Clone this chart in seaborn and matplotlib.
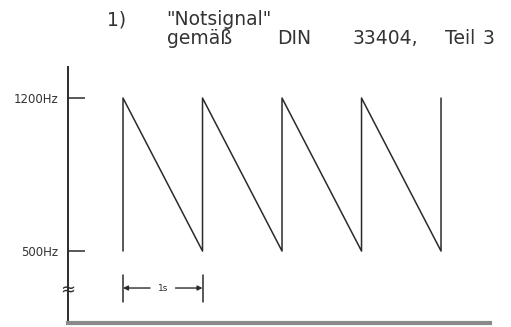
import matplotlib
matplotlib.use("Agg")
import matplotlib.pyplot as plt
import matplotlib.transforms as mtransforms
import seaborn as sns
import pandas as pd

# ---- data ----
time_s = [0, 0, 1, 1, 2, 2, 3, 3, 4, 4]
freq_hz = [500, 1200, 500, 1200, 500, 1200, 500, 1200, 500, 1200]
ytick_values = [500, 1200]
ytick_labels = ["500Hz", "1200Hz"]
title_line1 = ["1)", "\"Notsignal\""]
title_line2 = ["gemäß", "DIN", "33404,", "Teil", "3"]
period_label = "1s"

df = pd.DataFrame({"t": time_s, "f": freq_hz})

sns.set_style("white")
plt.rcParams["font.family"] = ["DejaVu Sans"]

W, H = 511, 327
fig = plt.figure(figsize=(W / 100, H / 100), dpi=100)
fig.patch.set_facecolor("white")
ax = fig.add_axes([68 / W, 1 - 323 / H, (490 - 68) / W, (323 - 67) / H])

ink = "#2b2b2b"
sns.lineplot(data=df, x="t", y="f", sort=False, estimator=None,
             color=ink, linewidth=1.1, ax=ax)

ax.set_xlim(-0.692, 4.616)
ax.set_ylim(171, 1342)
ax.set_xlabel("")
ax.set_ylabel("")
ax.set_xticks([])
ax.set_yticks(ytick_values)
ax.set_yticklabels(ytick_labels, fontsize=8.5, color="#333333")
ax.tick_params(axis="y", direction="in", length=12, width=1.1,
               color=ink, pad=7, left=True)

for s in ["top", "right"]:
    ax.spines[s].set_visible(False)
ax.spines["left"].set_color(ink)
ax.spines["left"].set_linewidth(1.4)
ax.spines["bottom"].set_color("#8a8a8a")
ax.spines["bottom"].set_linewidth(3)

# axis break mark
trans = mtransforms.blended_transform_factory(ax.transAxes, ax.transData)
ax.text(0, 318, "≈", transform=trans, ha="center", va="center",
        fontsize=13, color=ink)

# 1 s dimension marker
t0, t1 = time_s[0], time_s[2]
dim_y, bar_lo, bar_hi = 331, 267, 392
for t in (t0, t1):
    ax.plot([t, t], [bar_lo, bar_hi], color=ink, linewidth=1.1)
tmid = (t0 + t1) / 2
ax.text(tmid, dim_y, period_label, ha="center", va="center",
        fontsize=6.5, color=ink)
ax.annotate("", xy=(t0, dim_y), xytext=(tmid - 0.16, dim_y),
            arrowprops=dict(arrowstyle="-|>", color=ink, lw=1.0,
                            mutation_scale=7, shrinkA=0, shrinkB=0))
ax.annotate("", xy=(t1, dim_y), xytext=(tmid + 0.16, dim_y),
            arrowprops=dict(arrowstyle="-|>", color=ink, lw=1.0,
                            mutation_scale=7, shrinkA=0, shrinkB=0))

# title words (centred at measured pixel positions)
line1_x = [117, 219]
line2_x = [200, 294, 385, 460, 488]
for word, x in zip(title_line1, line1_x):
    fig.text(x / W, 1 - 25 / H, word, ha="center", va="baseline",
             fontsize=13.5, color="#333333")
for word, x in zip(title_line2, line2_x):
    fig.text(x / W, 1 - 44 / H, word, ha="center", va="baseline",
             fontsize=13.5, color="#333333")

fig.savefig("out.png", dpi=100, facecolor="white")
